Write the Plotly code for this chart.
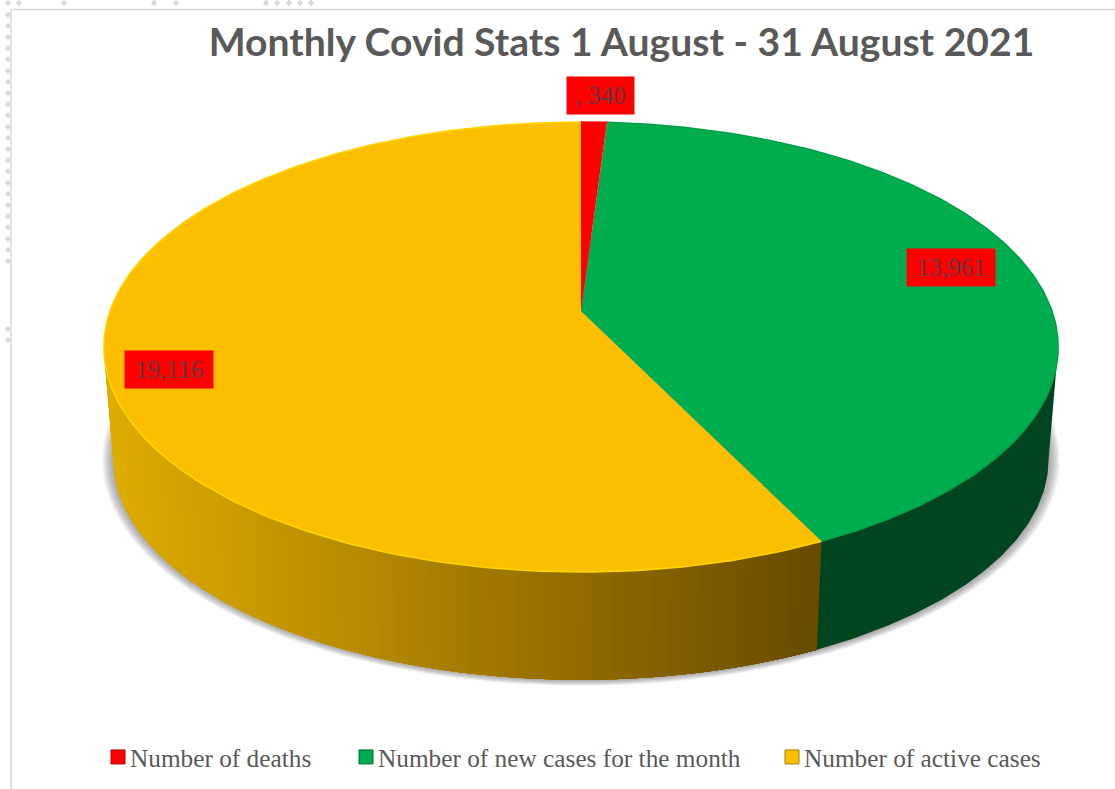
import numpy as np
import plotly.graph_objects as go

# ---- data ----
categories = ["Number of deaths", "Number of new cases for the month", "Number of active cases"]
values = [340, 13961, 19116]
value_labels = [",\u00a0340", "13,961", "19,116"]
title_text = "Monthly Covid Stats 1 August - 31 August 2021"

# ---- style ----
top_colors = ["#FF0000", "#00AD4E", "#FBBF00"]
rim_colors = ["#FF0000", "#00A048", "#FFD400"]
swatch_edges = ["#B00000", "#006B30", "#A87F00"]
GREY = "#595959"
LABEL_TEXT = "#63383A"
SERIF = "Liberation Serif"

# projected pie geometry (pixel axes)
CX, APEX_TOP, A, B, P = 581.0, 311.0, 471.0, 219.2, 0.16
APEX_BOT, BOT_SCALE = 424.0, 0.98
# angle at which the projected disc reaches its widest point (the wall's silhouette)
TANGENT = np.degrees(np.arccos(-P))


def project(theta_deg, apex_y, scale=1.0, cx=CX):
    t = np.radians(theta_deg)
    den = 1 + P * np.cos(t)
    return cx + scale * A * np.sin(t) / den, apex_y - scale * B * np.cos(t) / den


total = sum(values)
edges = np.concatenate([[0], np.cumsum(values) / total * 360])

fig = go.Figure()


def add_poly(xs, ys, color, opacity=1.0, line=0.0):
    fig.add_trace(go.Scatter(
        x=xs, y=ys, mode="lines", fill="toself", fillcolor=color, opacity=opacity,
        line=dict(color=color, width=line), hoverinfo="skip", showlegend=False))


def wall(a0, a1, n=3):
    th = np.linspace(a0, a1, n)
    xt, yt = project(th, APEX_TOP)
    xb, yb = project(th, APEX_BOT, BOT_SCALE)
    return np.concatenate([xt, xb[::-1]]), np.concatenate([yt, yb[::-1]]), xb


# soft shadow under the disc
full = np.linspace(0, 360, 241)
for s in np.linspace(1.024, 1.002, 10):
    sx, sy = project(full, APEX_BOT, BOT_SCALE * s)
    add_poly(sx, sy, "#606060", opacity=0.07)

# side wall: gradient strips on the yellow slice, drawn overlapping so no seams show
SIDE_L = (224, 172, 0)
SIDE_R = (104, 74, 0)
SIDE_GREEN = "#004420"
xl, xr = 112.0, 816.0
step = 1.0
for a0 in np.arange(360 - TANGENT, edges[2] - step, -step):
    xs, ys, xb = wall(edges[2], a0, n=max(3, int(abs(a0 - edges[2])) + 2))
    f = np.clip((project(a0, APEX_BOT, BOT_SCALE)[0] - xl) / (xr - xl), 0, 1)
    c = tuple(int(round(SIDE_L[i] + f * (SIDE_R[i] - SIDE_L[i]))) for i in range(3))
    add_poly(xs, ys, "rgb(%d,%d,%d)" % c)
xs, ys, _ = wall(TANGENT, edges[2], n=80)
add_poly(xs, ys, SIDE_GREEN)

# top wedges
for i in [2, 1, 0]:
    th = np.linspace(edges[i], edges[i + 1], 200)
    ex, ey = project(th, APEX_TOP)
    add_poly(np.concatenate([[CX], ex, [CX]]), np.concatenate([[APEX_TOP], ey, [APEX_TOP]]), top_colors[i])
    fig.add_trace(go.Scatter(x=ex, y=ey, mode="lines", line=dict(color=rim_colors[i], width=1.6),
                             hoverinfo="skip", showlegend=False))

# legend entries (one independent legend per entry, like the original spacing)
legend_ids = ["legend", "legend2", "legend3"]
legend_text_x = [130, 378, 804]
legend_y = 757
for i, name in enumerate(categories):
    fig.add_trace(go.Scatter(
        x=[None], y=[None], mode="markers", name=name, legend=legend_ids[i],
        marker=dict(symbol="square", size=14, color=top_colors[i],
                    line=dict(color=swatch_edges[i], width=1))))

# page furniture from the source screenshot
dot_y_left = list(np.arange(14.7, 262, 11.2)) + [329, 340]
dot_x_top = [8, 19, 64, 154, 176, 266, 277, 289, 300, 311]
fig.add_trace(go.Scatter(x=dot_x_top + [8] * len(dot_y_left), y=[3] * len(dot_x_top) + dot_y_left,
                         mode="markers", hoverinfo="skip", showlegend=False,
                         marker=dict(symbol="diamond", size=5, color="#DADADA")))

# data labels
label_pos = [(600.5, 95.5), (951, 267.5), (169, 369.5)]
label_size = [(67, 37), (88, 37), (88, 37)]
annotations = []
for txt, (x, y), (w, h) in zip(value_labels, label_pos, label_size):
    annotations.append(dict(x=x, y=y, xref="x", yref="y", text=txt, showarrow=False,
                            width=w, height=h, bgcolor="#FF0000", borderpad=0, align="center",
                            valign="middle", font=dict(family=SERIF, size=25, color=LABEL_TEXT)))

W, H = 1115, 789
layout_legends = {}
for lid, tx in zip(legend_ids, legend_text_x):
    layout_legends[lid] = dict(
        x=(tx - 40) / W, xanchor="left", y=1 - legend_y / H, yanchor="middle",
        orientation="h", bgcolor="rgba(0,0,0,0)", borderwidth=0,
        font=dict(family=SERIF, size=25.3, color=GREY))

fig.update_layout(
    width=W, height=H, autosize=False,
    margin=dict(l=0, r=0, t=0, b=0),
    paper_bgcolor="white", plot_bgcolor="white",
    title=dict(text=title_text, x=621.5 / W, xanchor="center", y=1 - 42 / H, yanchor="middle",
               font=dict(family="Lato", size=39.1, color=GREY, weight="bold")),
    xaxis=dict(range=[0, W], visible=False, fixedrange=True),
    yaxis=dict(range=[H, 0], visible=False, fixedrange=True),
    annotations=annotations,
    shapes=[
        dict(type="line", xref="x", yref="y", x0=11, x1=11, y0=9.5, y1=H, line=dict(color="#D9D9D9", width=1.5)),
        dict(type="line", xref="x", yref="y", x0=11, x1=W, y0=9.5, y1=9.5, line=dict(color="#D9D9D9", width=1.5)),
    ],
    **layout_legends,
)

post = """
document.body.style.margin='0';
document.documentElement.style.overflow='hidden';
function nudge(){document.querySelectorAll('.legendsymbols').forEach(function(g){g.setAttribute('transform','translate(8,0)');});}
nudge(); setTimeout(nudge,100); setTimeout(nudge,500);
"""
fig.write_html("out.html", config={"displayModeBar": False}, post_script=post)
